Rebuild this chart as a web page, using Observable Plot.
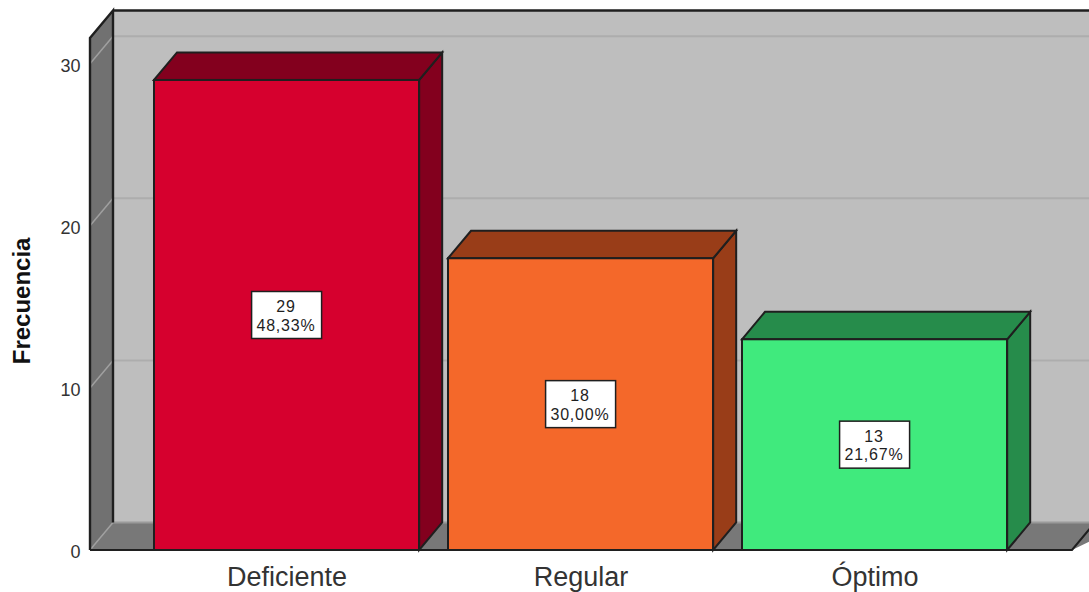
<!DOCTYPE html>
<html>
<head>
<meta charset="utf-8">
<style>
html,body{margin:0;padding:0;background:#fff;overflow:hidden}
svg{display:block}
.box-label{letter-spacing:0.8px}
</style>
<script src="https://cdn.jsdelivr.net/npm/d3@7"></script>
<script src="https://cdn.jsdelivr.net/npm/@observablehq/plot@0.6"></script>
</head>
<body>
<div id="chart"></div>
<script>
const categories = ["Deficiente", "Regular", "Óptimo"];
const counts = [29, 18, 13];
const percents = ["48,33%", "30,00%", "21,67%"];
const frontColors = ["#d6002e", "#f4682a", "#40ea7d"];
const depthColors = ["#83001e", "#993d18", "#268c4b"];
const yTicks = [0, 10, 20, 30];
const gridValues = [10, 20, 30];

const rows = categories.map((c, i) => ({
  category: c, count: counts[i],
  label: counts[i] + "\n" + percents[i],
  front: frontColors[i], depth: depthColors[i]
}));

const depthX = 23, depthY = -27.5;
const ink = "#1f1f1f";
const ns = "http://www.w3.org/2000/svg";

const xOptions = {type: "band", domain: categories, range: [90, 1070], paddingInner: 0.1, paddingOuter: 0.213, label: null};
const bandWidth = Plot.scale({x: xOptions}).bandwidth;

function el(tag, attrs) {
  const n = document.createElementNS(ns, tag);
  for (const k in attrs) n.setAttribute(k, attrs[k]);
  return n;
}
function pts(a) { return a.map(p => p.join(",")).join(" "); }

// Back wall, side wall, floor and grid lines: positioned from the y scale and the frame
function room(index, scales, values, dim) {
  const g = el("g", {});
  const y = scales.y, L = dim.marginLeft, R = dim.width - dim.marginRight;
  const y0 = y(0), yTop = dim.marginTop;
  const bx = L + depthX, far = dim.width + 40;
  g.append(el("rect", {x: bx, y: yTop + depthY, width: far - bx, height: y0 - yTop, fill: "#bebebe"}));
  g.append(el("polygon", {points: pts([[L, yTop], [bx, yTop + depthY], [bx, y0 + depthY], [L, y0]]), fill: "#717171"}));
  g.append(el("polygon", {points: pts([[L, y0], [bx, y0 + depthY], [far, y0 + depthY], [R, y0]]), fill: "#787878"}));
  for (const v of gridValues) {
    const p = y(v);
    g.append(el("line", {x1: bx, x2: far, y1: p + depthY, y2: p + depthY, stroke: "#adadad", "stroke-width": 2}));
    g.append(el("line", {x1: L, x2: bx, y1: p, y2: p + depthY, stroke: "#a0a0a0", "stroke-width": 1.5}));
  }
  g.append(el("line", {x1: bx, x2: far, y1: y0 + depthY, y2: y0 + depthY, stroke: "#9a9a9a", "stroke-width": 2}));
  g.append(el("line", {x1: L, x2: bx, y1: y0, y2: y0 + depthY, stroke: "#a0a0a0", "stroke-width": 1.5}));
  g.append(el("path", {d: `M${L},${y0}V${yTop}L${bx},${yTop + depthY}V${y0 + depthY}M${bx},${yTop + depthY}H${far}`, fill: "none", stroke: ink, "stroke-width": 2.4}));
  g.append(el("path", {d: `M${L},${y0}H${R}L${R + depthX},${y0 + depthY}`, fill: "none", stroke: ink, "stroke-width": 2}));
  return g;
}

// Top and side faces of each bar, drawn before the bar fronts
function barDepth(index, scales) {
  const g = el("g", {});
  const x = scales.x, y = scales.y, w = bandWidth;
  for (const r of rows) {
    const a = x(r.category), b = a + w, t = y(r.count), z = y(0);
    g.append(el("polygon", {points: pts([[b, t], [b + depthX, t + depthY], [b + depthX, z + depthY], [b, z]]), fill: r.depth, stroke: ink, "stroke-width": 2}));
    g.append(el("polygon", {points: pts([[a, t], [a + depthX, t + depthY], [b + depthX, t + depthY], [b, t]]), fill: r.depth, stroke: ink, "stroke-width": 2}));
  }
  return g;
}

// White label boxes centred on each bar
function labelBoxes(index, scales) {
  const g = el("g", {});
  const x = scales.x, y = scales.y, w = bandWidth;
  for (const r of rows) {
    g.append(el("rect", {x: x(r.category) + w / 2 - 35, y: y(r.count / 2) - 23.5, width: 70, height: 47, fill: "#fff", stroke: ink, "stroke-width": 1.5}));
  }
  return g;
}

const chart = Plot.plot({
  width: 1089, height: 592,
  marginLeft: 90, marginRight: 17, marginTop: 38, marginBottom: 42,
  style: {background: "#fff", fontFamily: "'Liberation Sans', Arial, sans-serif", color: "#333"},
  x: xOptions,
  y: {domain: [0, 31.59], label: null},
  marks: [
    room,
    barDepth,
    Plot.barY(rows, {x: "category", y: "count", fill: "front", stroke: ink, strokeWidth: 2}),
    labelBoxes,
    Plot.text(rows, {x: "category", y: d => d.count / 2, text: "label", fontSize: 16, lineHeight: 1.15, fill: "#1f1f1f", dx: -1, className: "box-label"}),
    Plot.axisY({ticks: yTicks, tickSize: 0, tickPadding: 10, label: null, fontSize: 18, tickFormat: d => String(d), dy: 2}),
    Plot.axisX({tickSize: 0, tickPadding: 16, label: null, fontSize: 27}),
    Plot.text(["Frecuencia"], {frameAnchor: "left", textAnchor: "middle", y: [15.4], rotate: -90, dx: -68, fontSize: 24, fontWeight: "bold", fill: "#111"})
  ]
});
document.getElementById("chart").append(chart);
</script>
</body>
</html>
